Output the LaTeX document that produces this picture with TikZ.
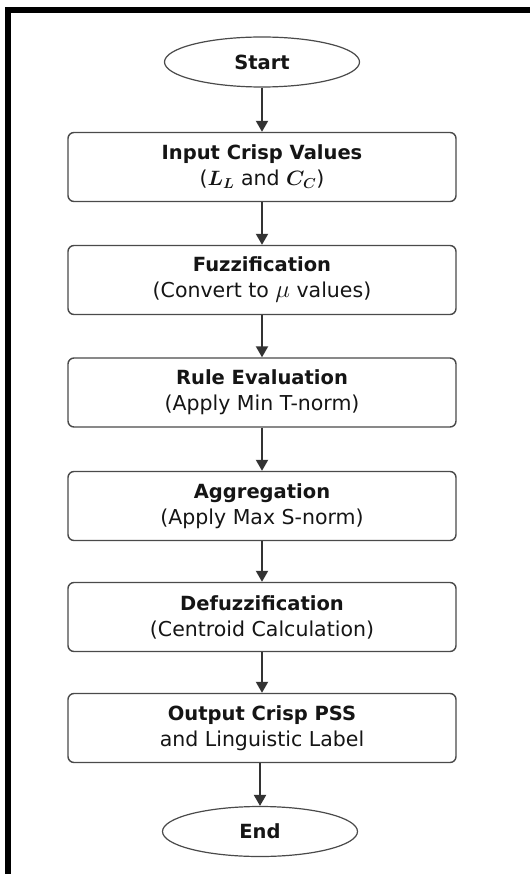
\documentclass[tikz,border=0pt]{standalone}
\usepackage{bm}
\usepackage{fontspec}
\setmainfont{DejaVu Sans}
\usetikzlibrary{shapes.geometric,arrows.meta}
\definecolor{edge}{HTML}{4A4A4A}
\definecolor{arr}{HTML}{333333}
\definecolor{txt}{HTML}{151515}
\newcommand{\ttl}[1]{{\fontsize{19.5}{26}\selectfont\bfseries #1}}
\newcommand{\bigmu}{{\fontsize{25}{26}\selectfont$\mu$}}
\tikzset{
  procbox/.style={draw=edge, line width=1.4pt, rounded corners=6pt, minimum width=388pt, minimum height=69pt, align=center, text=txt, font=\fontsize{20.5}{26}\selectfont, inner sep=0pt},
  term/.style={draw=edge, line width=1.2pt, ellipse, minimum width=195pt, minimum height=50pt, text=txt, font=\fontsize{19.5}{20}\selectfont\bfseries, inner sep=0pt},
  flow/.style={draw=arr, line width=2pt, -{Triangle[length=11pt,width=12pt]}}
}
\begin{document}
\begin{tikzpicture}[x=1pt,y=-1pt]
\useasboundingbox (0,0) rectangle (530,874);
\fill[white] (0,0) rectangle (530,874);
\fill[black] (5,7) rectangle (530,13);
\fill[black] (5,7) rectangle (11,874);
\node[term] (start) at (262,62) {Start};
\node[procbox] (b1) at (262,167) {\ttl{Input Crisp Values}\\($\bm{L}_{\bm{L}}$ and $\bm{C}_{\bm{C}}$)};
\node[procbox] (b2) at (262,280) {\ttl{Fuzzification}\\(Convert to \bigmu{} values)};
\node[procbox] (b3) at (262,392.5) {\ttl{Rule Evaluation}\\(Apply Min T-norm)};
\node[procbox] (b4) at (262,506) {\ttl{Aggregation}\\(Apply Max S-norm)};
\node[procbox] (b5) at (262,617) {\ttl{Defuzzification}\\(Centroid Calculation)};
\node[procbox] (b6) at (262,728) {\ttl{Output Crisp PSS}\\and Linguistic Label};
\node[term] (end) at (260,831.5) {End};
\draw[flow] (start) -- (b1);
\draw[flow] (b1) -- (b2);
\draw[flow] (b2) -- (b3);
\draw[flow] (b3) -- (b4);
\draw[flow] (b4) -- (b5);
\draw[flow] (b5) -- (b6);
\draw[flow] (b6.south -| end) -- (end);
\end{tikzpicture}
\end{document}
